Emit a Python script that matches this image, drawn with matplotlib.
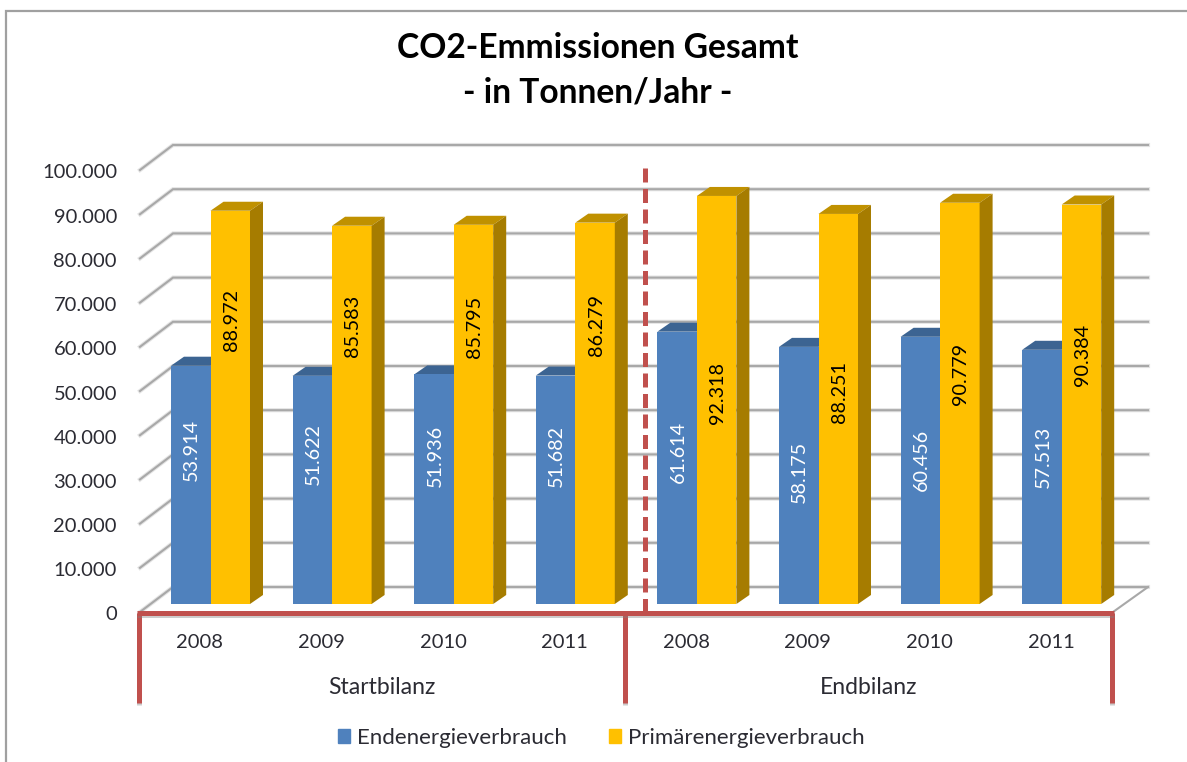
import matplotlib
matplotlib.use("Agg")
import matplotlib.pyplot as plt
import matplotlib.patheffects as pe
from matplotlib.patches import Patch

plt.rcParams['font.family'] = ['Lato', 'DejaVu Sans']

# data
years = ['2008', '2009', '2010', '2011', '2008', '2009', '2010', '2011']
groups = ['Startbilanz', 'Endbilanz']
endenergie = [53914, 51622, 51936, 51682, 61614, 58175, 60456, 57513]
primaer = [88972, 85583, 85795, 86279, 92318, 88251, 90779, 90384]
y_ticks = list(range(0, 100001, 10000))

# where the data labels sit on the bars (value axis)
label_pos_end = [34800, 33900, 33500, 33500, 34400, 29900, 32600, 33300]
label_pos_prim = [64300, 62900, 62700, 63100, 47700, 48000, 52000, 56300]

BLUE, BLUE_TOP = '#4f81bd', '#3c6492'
YELLOW, YELLOW_SIDE, YELLOW_TOP = '#ffc000', '#a67c00', '#c09100'
RED = '#c0504d'
GRID = '#a8a8a8'
TEXT = '#2b2b33'

# scale of the picture: pixels per category and pixels per 1000 tons
PX_CAT = 121.6
PX_VAL = 4.42 / 1000
X0, Y0 = 139, 604


def dx(px):
    return px / PX_CAT


def dy(px):
    return px / PX_VAL


def X(px):
    return (px - X0) / PX_CAT


def Y(py):
    return (Y0 - py) / PX_VAL


fig = plt.figure(figsize=(11.87, 7.62), dpi=100, facecolor='white')
ax = fig.add_axes([0, 0, 1, 1])
ax.set_xlim(X(0), X(1187))
ax.set_ylim(Y(762), Y(0))
ax.axis('off')

# outer chart frame, open on the right and bottom
ax.plot([X(6), X(6), X(1187)], [Y(762), Y(11), Y(11)], color='#a0a0a0', lw=1.6,
        solid_joinstyle='miter')

# back wall gridlines and the slanted part on the side wall
wall_x0, wall_x1 = X(173), X(1148)
wall_y = dy(17)
side_x = X(140)
for v in y_ticks:
    yb = v + wall_y
    yf = v - dy(8)
    for lw, col in [(3.0, '#e4e4e4'), (1.5, GRID)]:
        ax.plot([side_x, wall_x0, wall_x1], [yf, yb, yb], color=col, lw=lw, zorder=1,
                solid_joinstyle='miter')
    ax.text(X(117), yf - dy(3), f'{v:,}'.replace(',', '.'), ha='right', va='center',
            fontsize=14.5, color=TEXT)
# right edge of the floor
ax.plot([X(1113), wall_x1], [-dy(8), wall_y], color=GRID, lw=1.5, zorder=1)

# bars with their fake 3d faces
bar_w = dx(39.5)
depth_x, depth_y = dx(13), dy(9)
for i in range(len(years)):
    x_end = i + dx(32)
    x_prim = x_end + bar_w
    ax.bar(x_end, endenergie[i], bar_w, align='edge', color=BLUE, zorder=3)
    ax.fill([x_end, x_end + depth_x, x_prim + depth_x, x_prim],
            [endenergie[i], endenergie[i] + depth_y, endenergie[i] + depth_y, endenergie[i]],
            color=BLUE_TOP, lw=0, zorder=2)
    ax.bar(x_prim, primaer[i], bar_w, align='edge', color=YELLOW, zorder=3)
    x_r = x_prim + bar_w
    ax.fill([x_prim, x_prim + depth_x, x_r + depth_x, x_r],
            [primaer[i], primaer[i] + depth_y, primaer[i] + depth_y, primaer[i]],
            color=YELLOW_TOP, lw=0, zorder=3)
    ax.fill([x_r, x_r + depth_x, x_r + depth_x, x_r],
            [0, depth_y, primaer[i] + depth_y, primaer[i]],
            color=YELLOW_SIDE, lw=0, zorder=3)
    ax.text(x_end + bar_w / 2 + dx(1), label_pos_end[i], f'{endenergie[i]:,}'.replace(',', '.'),
            rotation=90, ha='center', va='center', fontsize=14.2, color='white', zorder=5)
    ax.text(x_prim + bar_w / 2 + dx(1), label_pos_prim[i], f'{primaer[i]:,}'.replace(',', '.'),
            rotation=90, ha='center', va='center', fontsize=14.2, color='black', zorder=5)
    ax.text(i + 0.5, Y(643), years[i], ha='center', va='center', fontsize=14.5, color=TEXT)

# red group brackets and the dashed separator
shadow = [pe.SimpleLineShadow(offset=(0, -1.5), shadow_color='#808080', alpha=0.4), pe.Normal()]
for n in range(3):
    ax.plot([n * 4, n * 4], [Y(613), Y(703)], color=RED, lw=3.6, zorder=6,
            solid_capstyle='butt', path_effects=shadow)
ax.plot([0 - dx(2.5), 8 + dx(2.5)], [Y(613), Y(613)], color=RED, lw=3.6, zorder=6,
        solid_capstyle='butt', path_effects=shadow)
ax.plot([X(645), X(645)], [Y(168), Y(612)], color=RED, lw=3.6, zorder=4,
        linestyle=(0, (2.8, 1.3)), dash_capstyle='butt')

for n, name in enumerate(groups):
    ax.text(n * 4 + 2, Y(688), name, ha='center', va='center', fontsize=16.6, color=TEXT)

ax.text(X(598), Y(48), 'CO2-Emmissionen Gesamt', ha='center', va='center',
        fontsize=24.2, fontweight='bold', color='black')
ax.text(X(598), Y(92), '- in Tonnen/Jahr -', ha='center', va='center',
        fontsize=24.2, fontweight='bold', color='black')

handles = [Patch(color=BLUE), Patch(color=YELLOW)]
fig.legend(handles, ['Endenergieverbrauch', 'Primärenergieverbrauch'], loc='center',
           bbox_to_anchor=(601 / 1187, 1 - 738 / 762), ncol=2, frameon=False,
           fontsize=16, labelcolor=TEXT, handlelength=0.55, handleheight=0.55,
           handletextpad=0.3, columnspacing=1.9)

fig.savefig('out.png', dpi=100)
plt.close(fig)
